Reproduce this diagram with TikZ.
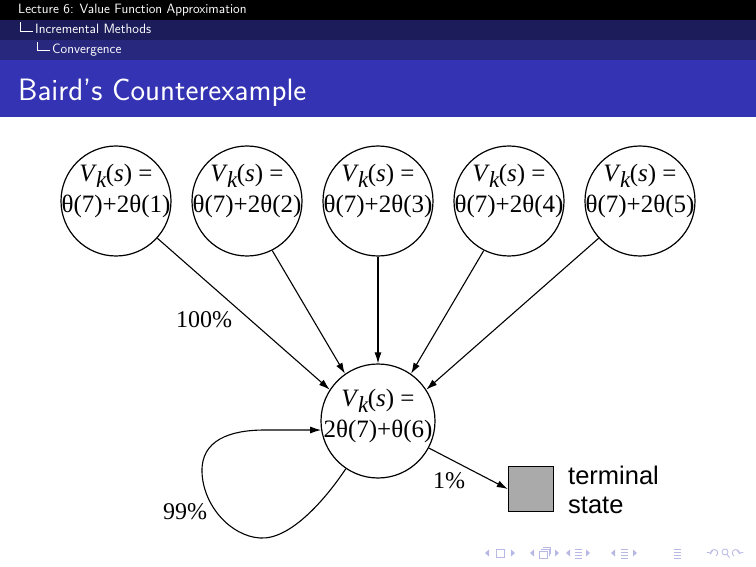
\documentclass[tikz,border=0pt]{standalone}
\usepackage{fontspec}
\newfontfamily\tms{Liberation Serif}
\newfontfamily\arl{Liberation Sans}
\usetikzlibrary{arrows.meta}
\definecolor{barB}{HTML}{1C1C5A}
\definecolor{barC}{HTML}{28287F}
\definecolor{titlebg}{HTML}{3333B3}
\definecolor{navc}{HTML}{B8B8E4}
\definecolor{termgray}{HTML}{AAAAAA}
\newcommand{\Vks}{\textit{V}\kern-1pt\raisebox{-6pt}{\fontsize{23}{23}\selectfont\itshape k}\kern-0.5pt(\textit{s}) =}
\begin{document}
\begin{tikzpicture}[x=1pt,y=1pt,
  st/.style={circle,draw,line width=1.2pt,minimum size=110pt,inner sep=0pt},
  lbl/.style={font=\tms\fontsize{25}{30.5}\selectfont,align=center,inner sep=0pt},
  pct/.style={font=\tms\fontsize{24}{28}\selectfont,inner sep=0pt},
  arr/.style={line width=1.1pt,-{Latex[length=11pt,width=7pt]}},
  hdr/.style={font=\sffamily\fontsize{13.5}{15}\selectfont,text=white,anchor=base west,inner sep=0pt},
  tree/.style={white,line width=0.8pt},
  nav/.style={navc,line width=0.8pt},
]
\useasboundingbox (0,0) rectangle (756,-567);
\fill[white] (0,0) rectangle (756,-567);
% header bars
\fill[black] (0,0) rectangle (756,-20);
\fill[barB] (0,-20) rectangle (756,-40);
\fill[barC] (0,-40) rectangle (756,-60);
\fill[titlebg] (0,-60) rectangle (756,-117);
\node[hdr] (h1) at (18,-13.6) {Lecture 6: Value Function Approximation};
\draw[tree] (20.7,-22) -- (20.7,-31) -- (33,-31);
\node[hdr] (h2) at (35,-34) {Incremental Methods};
\draw[tree] (37.7,-42) -- (37.7,-50.5) -- (50,-50.5);
\node[hdr] (h3) at (52,-54) {Convergence};
\node[hdr,font=\sffamily\fontsize{30.9}{35}\selectfont] (title) at (18,-100.5) {Baird's Counterexample};
% top states
\foreach \i/\x in {1/116,2/247,3/378,4/509,5/640}{
  \node[st] (c\i) at (\x,-201) {};
  \node[lbl] (t\i) at (\x,-191) {\Vks\\θ(7)+2θ(\i)};
}
% bottom state
\node[st,minimum size=114pt] (b) at (378,-421) {};
\node[lbl] (bt) at (378,-416) {\Vks\\2θ(7)+θ(6)};
% terminal
\node[draw,line width=1.5pt,fill=termgray,minimum size=45pt,inner sep=0pt] (term) at (531,-489) {};
\node[font=\arl\fontsize{25.5}{29}\selectfont,align=left,anchor=west,inner sep=0pt] (termtxt) at (568,-490) {terminal\\state};
% arrows
\draw[arr] (c1.-42) -- (b.147);
\draw[arr] (c2.-63) -- (b.125);
\draw[arr] (c3.-90) -- (b.90);
\draw[arr] (c4.-117) -- (b.55);
\draw[arr] (c5.-138) -- (b.33);
\draw[arr] (b.-124) .. controls (325,-500) and (290,-540) .. (260,-538)
  .. controls (230,-536) and (203,-505) .. (202,-472)
  .. controls (201,-440) and (230,-430) .. (265,-430) -- (b.-171);
\draw[arr] (b.-28) -- (term.west);
% labels
\node[pct] (l100) at (204,-320) {100\%};
\node[pct] (l99) at (185,-512) {99\%};
\node[pct] (l1) at (449,-481) {1\%};
% navigation symbols
\foreach \x in {487,532,568,613}{
  \fill[navc] (\x+2,-549.5) -- (\x-2,-553) -- (\x+2,-556.5) -- cycle;}
\foreach \x in {513,557,588,635}{
  \fill[navc] (\x-2,-549.5) -- (\x+2,-553) -- (\x-2,-556.5) -- cycle;}
\draw[nav] (496,-549) rectangle (504,-557);
\draw[nav] (539,-551) rectangle (547,-558);
\draw[nav] (541,-549) -- (549,-549) -- (549,-556);
\draw[nav] (543,-547.5) -- (550.5,-547.5) -- (550.5,-554);
\foreach \x in {578,624,677}{
  \draw[nav] (\x-3.5,-549) -- (\x+3.5,-549) (\x-3.5,-552) -- (\x+3.5,-552)
    (\x-3.5,-555) -- (\x+3.5,-555) (\x-3.5,-558) -- (\x+3.5,-558);}
\draw[nav,->] (716,-556) arc (-60:200:3.5);
\draw[nav] (725,-552) circle (3);
\draw[nav] (727,-554.5) -- (729.5,-557.5);
\draw[nav,->] (734,-556) arc (240:-20:3.5);
\end{tikzpicture}
\end{document}
